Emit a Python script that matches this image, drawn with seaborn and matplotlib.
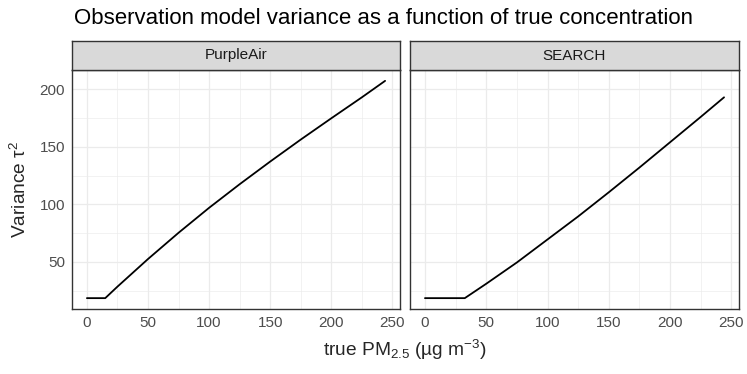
import numpy as np
import pandas as pd
import matplotlib
matplotlib.use('Agg')
import matplotlib.pyplot as plt
import seaborn as sns
from matplotlib.ticker import MultipleLocator

# ---- data ----
pa_conc = [0, 15, 25, 50, 75, 100, 125, 150, 175, 200, 225, 244]
pa_var = [18.5, 18.5, 28.5, 52.5, 75.3, 97.0, 117.5, 137.2, 156.3, 174.8, 193.0, 207.3]

se_conc = [0, 32.5, 50, 75, 100, 125, 150, 175, 200, 225, 244]
se_var = [18.5, 18.5, 31.0, 49.5, 69.5, 89.5, 110.5, 132.0, 154.0, 176.0, 193.0]

panels = ['PurpleAir', 'SEARCH']
x_ticks = [0, 50, 100, 150, 200, 250]
y_ticks = [50, 100, 150, 200]

df = pd.concat([
    pd.DataFrame({'conc': pa_conc, 'var': pa_var, 'sensor': 'PurpleAir'}),
    pd.DataFrame({'conc': se_conc, 'var': se_var, 'sensor': 'SEARCH'}),
])

sns.set_style('white')
plt.rcParams['font.family'] = ['Liberation Sans', 'DejaVu Sans']
plt.rcParams['mathtext.fontset'] = 'custom'
plt.rcParams['mathtext.rm'] = 'Liberation Sans'
plt.rcParams['mathtext.it'] = 'Liberation Sans:italic'

W, H = 747, 374
fig = plt.figure(figsize=(W / 100, H / 100), dpi=100)

dark = '#333333'
lefts = [72, 410]
widths = [328, 329]
top, bottom, strip_top = 70, 309, 41

# shared limits like ggplot (5% expansion)
xmin, xmax = df['conc'].min(), df['conc'].max()
ymin, ymax = df['var'].min(), df['var'].max()
xpad, ypad = 0.05 * (xmax - xmin), 0.05 * (ymax - ymin)

for i, name in enumerate(panels):
    ax = fig.add_axes([lefts[i] / W, (H - bottom) / H, widths[i] / W, (bottom - top) / H])
    sub = df[df['sensor'] == name]
    sns.lineplot(data=sub, x='conc', y='var', color='black', linewidth=1.3, ax=ax,
                 estimator=None, sort=False)
    ax.set_xlim(xmin - xpad, xmax + xpad)
    ax.set_ylim(ymin - ypad, ymax + ypad)
    ax.set_xticks(x_ticks)
    ax.set_yticks(y_ticks)
    ax.xaxis.set_minor_locator(MultipleLocator(25))
    ax.yaxis.set_minor_locator(MultipleLocator(25))
    ax.grid(which='major', color='#EBEBEB', linewidth=0.9)
    ax.grid(which='minor', color='#EBEBEB', linewidth=0.45)
    ax.set_axisbelow(True)
    ax.tick_params(which='major', direction='out', length=3, width=0.8, color=dark,
                   labelsize=11, labelcolor='#4D4D4D', pad=2)
    ax.tick_params(which='minor', length=0)
    if i == 1:
        ax.tick_params(axis='y', which='major', length=0, labelleft=False)
    for s in ax.spines.values():
        s.set_color(dark)
        s.set_linewidth(1.0)
    ax.set_xlabel('')
    ax.set_ylabel('')

    # facet strip
    sax = fig.add_axes([lefts[i] / W, (H - top) / H, widths[i] / W, (top - strip_top) / H])
    sax.set_facecolor('#D9D9D9')
    sax.set_xticks([])
    sax.set_yticks([])
    for s in sax.spines.values():
        s.set_color(dark)
        s.set_linewidth(1.0)
    sax.text(0.5, 0.5, name, ha='center', va='center', fontsize=11, color='#1A1A1A',
             transform=sax.transAxes)

fig.text(74 / W, 1 - 19 / H, 'Observation model variance as a function of true concentration',
         ha='left', va='center', fontsize=16, color='black')
fig.text(405 / W, 1 - 350 / H, 'true PM$_{2.5}$ (µg m$^{-3}$)', ha='center', va='center',
         fontsize=13.75)
fig.text(20 / W, 1 - 189 / H, 'Variance τ$^2$', ha='center', va='center', rotation=90,
         fontsize=13.75)

fig.savefig('out.png', dpi=100)
